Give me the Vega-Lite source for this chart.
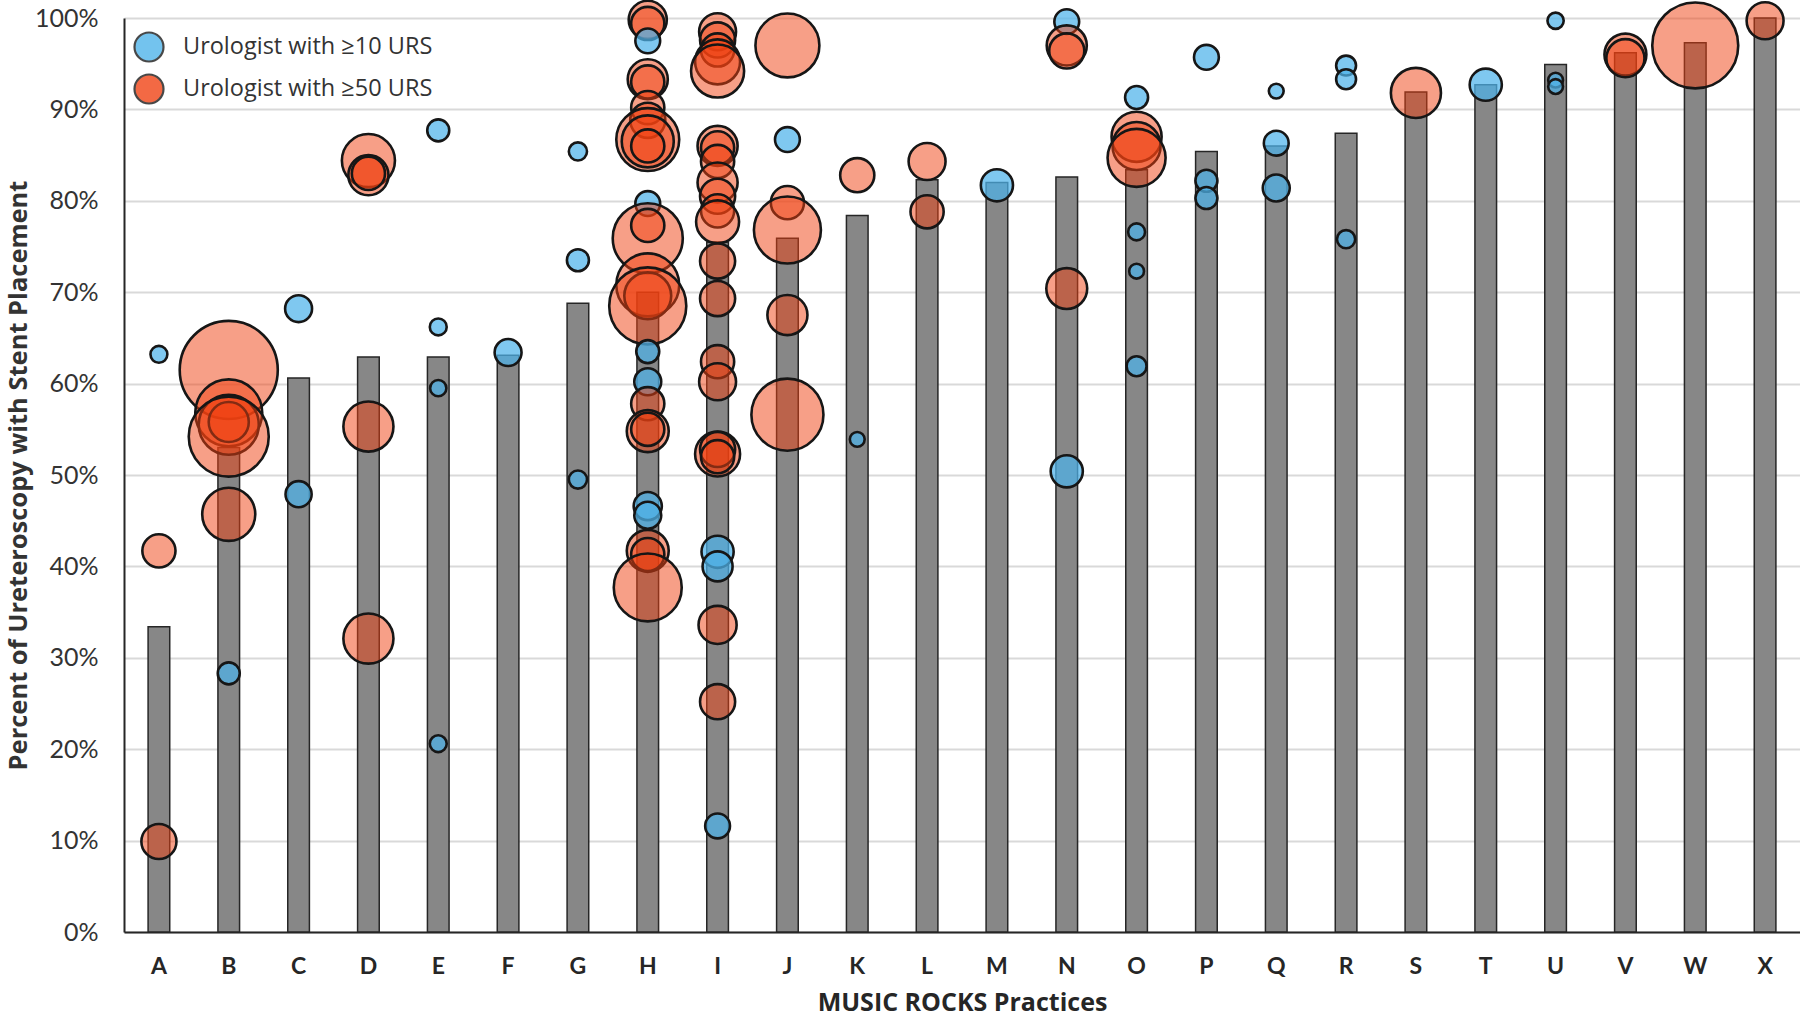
{
  "$schema": "https://vega.github.io/schema/vega-lite/v6.json",
  "width": 1676,
  "height": 914,
  "autosize": {"type": "none"},
  "padding": {"left": 124, "top": 18, "right": 0, "bottom": 85},
  "background": "white",
  "config": {"view": {"stroke": null}, "font": "Lato"},
  "datasets": {
    "bars": [
      {"practice": "A", "pct": 33.4}, {"practice": "B", "pct": 53.0}, {"practice": "C", "pct": 60.6},
      {"practice": "D", "pct": 62.9}, {"practice": "E", "pct": 62.9}, {"practice": "F", "pct": 63.1},
      {"practice": "G", "pct": 68.8}, {"practice": "H", "pct": 70.0}, {"practice": "I", "pct": 75.5},
      {"practice": "J", "pct": 75.9}, {"practice": "K", "pct": 78.4}, {"practice": "L", "pct": 82.3},
      {"practice": "M", "pct": 82.0}, {"practice": "N", "pct": 82.6}, {"practice": "O", "pct": 83.4},
      {"practice": "P", "pct": 85.4}, {"practice": "Q", "pct": 86.0}, {"practice": "R", "pct": 87.4},
      {"practice": "S", "pct": 91.9}, {"practice": "T", "pct": 92.7}, {"practice": "U", "pct": 94.9},
      {"practice": "V", "pct": 96.2}, {"practice": "W", "pct": 97.3}, {"practice": "X", "pct": 100.0}
    ],
    "bubbles": [
      {"practice": "A", "group": "Urologist with ≥10 URS", "pct": 63.2, "urs": 13},
      {"practice": "A", "group": "Urologist with ≥50 URS", "pct": 41.7, "urs": 50},
      {"practice": "A", "group": "Urologist with ≥50 URS", "pct": 9.9, "urs": 56},
      {"practice": "B", "group": "Urologist with ≥50 URS", "pct": 61.5, "urs": 437},
      {"practice": "B", "group": "Urologist with ≥50 URS", "pct": 56.8, "urs": 204},
      {"practice": "B", "group": "Urologist with ≥50 URS", "pct": 55.5, "urs": 164},
      {"practice": "B", "group": "Urologist with ≥50 URS", "pct": 55.8, "urs": 73},
      {"practice": "B", "group": "Urologist with ≥50 URS", "pct": 54.2, "urs": 291},
      {"practice": "B", "group": "Urologist with ≥50 URS", "pct": 45.7, "urs": 128},
      {"practice": "B", "group": "Urologist with ≥10 URS", "pct": 28.3, "urs": 22},
      {"practice": "C", "group": "Urologist with ≥10 URS", "pct": 68.2, "urs": 33},
      {"practice": "C", "group": "Urologist with ≥10 URS", "pct": 47.9, "urs": 31},
      {"practice": "D", "group": "Urologist with ≥50 URS", "pct": 84.4, "urs": 128},
      {"practice": "D", "group": "Urologist with ≥50 URS", "pct": 82.8, "urs": 73},
      {"practice": "D", "group": "Urologist with ≥50 URS", "pct": 83.0, "urs": 50},
      {"practice": "D", "group": "Urologist with ≥50 URS", "pct": 55.3, "urs": 114},
      {"practice": "D", "group": "Urologist with ≥50 URS", "pct": 32.1, "urs": 114},
      {"practice": "E", "group": "Urologist with ≥10 URS", "pct": 87.7, "urs": 22},
      {"practice": "E", "group": "Urologist with ≥10 URS", "pct": 66.2, "urs": 13},
      {"practice": "E", "group": "Urologist with ≥10 URS", "pct": 59.5, "urs": 12},
      {"practice": "E", "group": "Urologist with ≥10 URS", "pct": 20.6, "urs": 13},
      {"practice": "F", "group": "Urologist with ≥10 URS", "pct": 63.4, "urs": 33},
      {"practice": "G", "group": "Urologist with ≥10 URS", "pct": 85.4, "urs": 15},
      {"practice": "G", "group": "Urologist with ≥10 URS", "pct": 73.5, "urs": 22},
      {"practice": "G", "group": "Urologist with ≥10 URS", "pct": 49.5, "urs": 15},
      {"practice": "H", "group": "Urologist with ≥50 URS", "pct": 99.8, "urs": 66},
      {"practice": "H", "group": "Urologist with ≥50 URS", "pct": 99.4, "urs": 50},
      {"practice": "H", "group": "Urologist with ≥10 URS", "pct": 97.5, "urs": 28},
      {"practice": "H", "group": "Urologist with ≥50 URS", "pct": 93.3, "urs": 73},
      {"practice": "H", "group": "Urologist with ≥50 URS", "pct": 93.0, "urs": 50},
      {"practice": "H", "group": "Urologist with ≥50 URS", "pct": 90.2, "urs": 50},
      {"practice": "H", "group": "Urologist with ≥50 URS", "pct": 88.8, "urs": 56},
      {"practice": "H", "group": "Urologist with ≥50 URS", "pct": 86.7, "urs": 180},
      {"practice": "H", "group": "Urologist with ≥50 URS", "pct": 86.5, "urs": 123},
      {"practice": "H", "group": "Urologist with ≥50 URS", "pct": 86.0, "urs": 50},
      {"practice": "H", "group": "Urologist with ≥10 URS", "pct": 79.7, "urs": 28},
      {"practice": "H", "group": "Urologist with ≥50 URS", "pct": 75.9, "urs": 223},
      {"practice": "H", "group": "Urologist with ≥50 URS", "pct": 77.3, "urs": 50},
      {"practice": "H", "group": "Urologist with ≥50 URS", "pct": 70.8, "urs": 180},
      {"practice": "H", "group": "Urologist with ≥50 URS", "pct": 69.6, "urs": 100},
      {"practice": "H", "group": "Urologist with ≥50 URS", "pct": 68.5, "urs": 270},
      {"practice": "H", "group": "Urologist with ≥10 URS", "pct": 63.5, "urs": 24},
      {"practice": "H", "group": "Urologist with ≥10 URS", "pct": 60.2, "urs": 33},
      {"practice": "H", "group": "Urologist with ≥50 URS", "pct": 57.8, "urs": 50},
      {"practice": "H", "group": "Urologist with ≥50 URS", "pct": 54.8, "urs": 80},
      {"practice": "H", "group": "Urologist with ≥50 URS", "pct": 55.0, "urs": 50},
      {"practice": "H", "group": "Urologist with ≥10 URS", "pct": 46.6, "urs": 36},
      {"practice": "H", "group": "Urologist with ≥10 URS", "pct": 45.6, "urs": 33},
      {"practice": "H", "group": "Urologist with ≥50 URS", "pct": 41.7, "urs": 80},
      {"practice": "H", "group": "Urologist with ≥50 URS", "pct": 41.3, "urs": 50},
      {"practice": "H", "group": "Urologist with ≥50 URS", "pct": 37.7, "urs": 210},
      {"practice": "I", "group": "Urologist with ≥50 URS", "pct": 98.5, "urs": 62},
      {"practice": "I", "group": "Urologist with ≥50 URS", "pct": 97.6, "urs": 56},
      {"practice": "I", "group": "Urologist with ≥50 URS", "pct": 96.5, "urs": 50},
      {"practice": "I", "group": "Urologist with ≥50 URS", "pct": 95.2, "urs": 92},
      {"practice": "I", "group": "Urologist with ≥50 URS", "pct": 94.2, "urs": 128},
      {"practice": "I", "group": "Urologist with ≥50 URS", "pct": 86.0, "urs": 73},
      {"practice": "I", "group": "Urologist with ≥50 URS", "pct": 85.8, "urs": 50},
      {"practice": "I", "group": "Urologist with ≥50 URS", "pct": 84.3, "urs": 50},
      {"practice": "I", "group": "Urologist with ≥50 URS", "pct": 82.0, "urs": 73},
      {"practice": "I", "group": "Urologist with ≥50 URS", "pct": 80.5, "urs": 56},
      {"practice": "I", "group": "Urologist with ≥50 URS", "pct": 78.9, "urs": 50},
      {"practice": "I", "group": "Urologist with ≥50 URS", "pct": 77.7, "urs": 84},
      {"practice": "I", "group": "Urologist with ≥50 URS", "pct": 73.4, "urs": 56},
      {"practice": "I", "group": "Urologist with ≥50 URS", "pct": 69.3, "urs": 56},
      {"practice": "I", "group": "Urologist with ≥50 URS", "pct": 62.4, "urs": 50},
      {"practice": "I", "group": "Urologist with ≥50 URS", "pct": 60.2, "urs": 62},
      {"practice": "I", "group": "Urologist with ≥50 URS", "pct": 52.3, "urs": 92},
      {"practice": "I", "group": "Urologist with ≥50 URS", "pct": 52.8, "urs": 56},
      {"practice": "I", "group": "Urologist with ≥50 URS", "pct": 52.0, "urs": 50},
      {"practice": "I", "group": "Urologist with ≥10 URS", "pct": 41.6, "urs": 47},
      {"practice": "I", "group": "Urologist with ≥10 URS", "pct": 40.0, "urs": 41},
      {"practice": "I", "group": "Urologist with ≥50 URS", "pct": 33.6, "urs": 66},
      {"practice": "I", "group": "Urologist with ≥50 URS", "pct": 25.2, "urs": 56},
      {"practice": "I", "group": "Urologist with ≥10 URS", "pct": 11.6, "urs": 28},
      {"practice": "J", "group": "Urologist with ≥50 URS", "pct": 97.0, "urs": 186},
      {"practice": "J", "group": "Urologist with ≥10 URS", "pct": 86.7, "urs": 28},
      {"practice": "J", "group": "Urologist with ≥50 URS", "pct": 79.8, "urs": 50},
      {"practice": "J", "group": "Urologist with ≥50 URS", "pct": 76.8, "urs": 204},
      {"practice": "J", "group": "Urologist with ≥50 URS", "pct": 67.5, "urs": 73},
      {"practice": "J", "group": "Urologist with ≥50 URS", "pct": 56.6, "urs": 236},
      {"practice": "K", "group": "Urologist with ≥50 URS", "pct": 82.8, "urs": 53},
      {"practice": "K", "group": "Urologist with ≥10 URS", "pct": 53.9, "urs": 10},
      {"practice": "L", "group": "Urologist with ≥50 URS", "pct": 84.3, "urs": 62},
      {"practice": "L", "group": "Urologist with ≥50 URS", "pct": 78.8, "urs": 50},
      {"practice": "M", "group": "Urologist with ≥10 URS", "pct": 81.7, "urs": 47},
      {"practice": "N", "group": "Urologist with ≥10 URS", "pct": 99.6, "urs": 28},
      {"practice": "N", "group": "Urologist with ≥50 URS", "pct": 97.0, "urs": 73},
      {"practice": "N", "group": "Urologist with ≥50 URS", "pct": 96.4, "urs": 56},
      {"practice": "N", "group": "Urologist with ≥50 URS", "pct": 70.4, "urs": 76},
      {"practice": "N", "group": "Urologist with ≥10 URS", "pct": 50.4, "urs": 47},
      {"practice": "O", "group": "Urologist with ≥10 URS", "pct": 91.3, "urs": 24},
      {"practice": "O", "group": "Urologist with ≥50 URS", "pct": 87.0, "urs": 114},
      {"practice": "O", "group": "Urologist with ≥50 URS", "pct": 86.0, "urs": 105},
      {"practice": "O", "group": "Urologist with ≥50 URS", "pct": 84.7, "urs": 153},
      {"practice": "O", "group": "Urologist with ≥10 URS", "pct": 76.6, "urs": 13},
      {"practice": "O", "group": "Urologist with ≥10 URS", "pct": 72.3, "urs": 10},
      {"practice": "O", "group": "Urologist with ≥10 URS", "pct": 61.9, "urs": 18},
      {"practice": "P", "group": "Urologist with ≥10 URS", "pct": 95.7, "urs": 28},
      {"practice": "P", "group": "Urologist with ≥10 URS", "pct": 82.2, "urs": 22},
      {"practice": "P", "group": "Urologist with ≥10 URS", "pct": 80.3, "urs": 22},
      {"practice": "Q", "group": "Urologist with ≥10 URS", "pct": 92.0, "urs": 10},
      {"practice": "Q", "group": "Urologist with ≥10 URS", "pct": 86.3, "urs": 28},
      {"practice": "Q", "group": "Urologist with ≥10 URS", "pct": 81.4, "urs": 33},
      {"practice": "R", "group": "Urologist with ≥10 URS", "pct": 94.8, "urs": 18},
      {"practice": "R", "group": "Urologist with ≥10 URS", "pct": 93.3, "urs": 18},
      {"practice": "R", "group": "Urologist with ≥10 URS", "pct": 75.8, "urs": 15},
      {"practice": "S", "group": "Urologist with ≥50 URS", "pct": 91.8, "urs": 114},
      {"practice": "T", "group": "Urologist with ≥10 URS", "pct": 92.7, "urs": 47},
      {"practice": "U", "group": "Urologist with ≥10 URS", "pct": 99.7, "urs": 12},
      {"practice": "U", "group": "Urologist with ≥10 URS", "pct": 93.2, "urs": 10},
      {"practice": "U", "group": "Urologist with ≥10 URS", "pct": 92.5, "urs": 10},
      {"practice": "V", "group": "Urologist with ≥50 URS", "pct": 96.0, "urs": 80},
      {"practice": "V", "group": "Urologist with ≥50 URS", "pct": 95.6, "urs": 66},
      {"practice": "W", "group": "Urologist with ≥50 URS", "pct": 97.0, "urs": 336},
      {"practice": "X", "group": "Urologist with ≥50 URS", "pct": 99.7, "urs": 62}
    ]
  },
  "layer": [
    {
      "data": {"name": "bars"},
      "mark": {"type": "bar", "fill": "#878787", "stroke": "#262626", "strokeWidth": 1.5},
      "encoding": {
        "x": {
          "field": "practice", "type": "nominal", "sort": null,
          "scale": {"paddingInner": 0.69, "paddingOuter": 0.345},
          "title": "MUSIC ROCKS Practices",
          "axis": {
            "labelAngle": 0, "ticks": false, "tickSize": 0, "labelPadding": 23,
            "labelFontSize": 23, "labelFontWeight": "bold", "labelColor": "#262626", "labelFont": "Lato",
            "domainColor": "#262626", "domainWidth": 2, "grid": false,
            "titleFontSize": 25, "titleFontWeight": "bold", "titleColor": "#262626", "titleFont": "Open Sans",
            "titleX": 838, "titleY": 83, "titleBaseline": "bottom", "titleAlign": "center"
          }
        },
        "y": {
          "field": "pct", "type": "quantitative",
          "scale": {"domain": [0, 100], "nice": false},
          "title": "Percent of Ureteroscopy with Stent Placement",
          "axis": {
            "values": [0, 10, 20, 30, 40, 50, 60, 70, 80, 90, 100],
            "labelExpr": "datum.value + '%'",
            "ticks": false, "tickSize": 0, "labelPadding": 26,
            "labelFontSize": 25, "labelColor": "#333333", "labelFont": "Lato",
            "domainColor": "#262626", "domainWidth": 2,
            "grid": true, "gridColor": "#d9d9d9", "gridWidth": 2,
            "titleFontSize": 25.5, "titleFontWeight": "bold", "titleColor": "#333333", "titleFont": "Open Sans",
            "titleX": -106, "titleY": 457, "titleAngle": 270, "titleBaseline": "middle", "titleAlign": "center"
          }
        }
      }
    },
    {
      "data": {"name": "bubbles"},
      "mark": {"type": "circle", "stroke": "#161616", "strokeWidth": 2.6, "opacity": 1, "strokeOpacity": 1},
      "encoding": {
        "x": {"field": "practice", "type": "nominal", "sort": null},
        "y": {"field": "pct", "type": "quantitative"},
        "size": {
          "field": "urs", "type": "quantitative",
          "scale": {"type": "linear", "domain": [0, 450], "range": [0, 9900], "zero": true},
          "legend": null
        },
        "fill": {
          "field": "group", "type": "nominal",
          "scale": {"domain": ["Urologist with ≥10 URS", "Urologist with ≥50 URS"], "range": ["#4DB3EA", "#F04010"]},
          "legend": {
            "title": null, "orient": "none", "legendX": 9, "legendY": 13,
            "symbolType": "circle", "symbolSize": 841, "symbolStrokeColor": "#161616", "symbolStrokeWidth": 2.2,
            "symbolOpacity": 0.78,
            "labelFontSize": 23.5, "labelColor": "#333333", "labelFont": "Open Sans", "labelOffset": 18, "labelLimit": 0,
            "rowPadding": 4, "padding": 0
          }
        },
        "fillOpacity": {
          "field": "group", "type": "nominal",
          "scale": {"domain": ["Urologist with ≥10 URS", "Urologist with ≥50 URS"], "range": [0.72, 0.5]},
          "legend": null
        },
        "order": [{"field": "group", "sort": "ascending"}, {"field": "urs", "sort": "descending"}]
      }
    }
  ]
}
